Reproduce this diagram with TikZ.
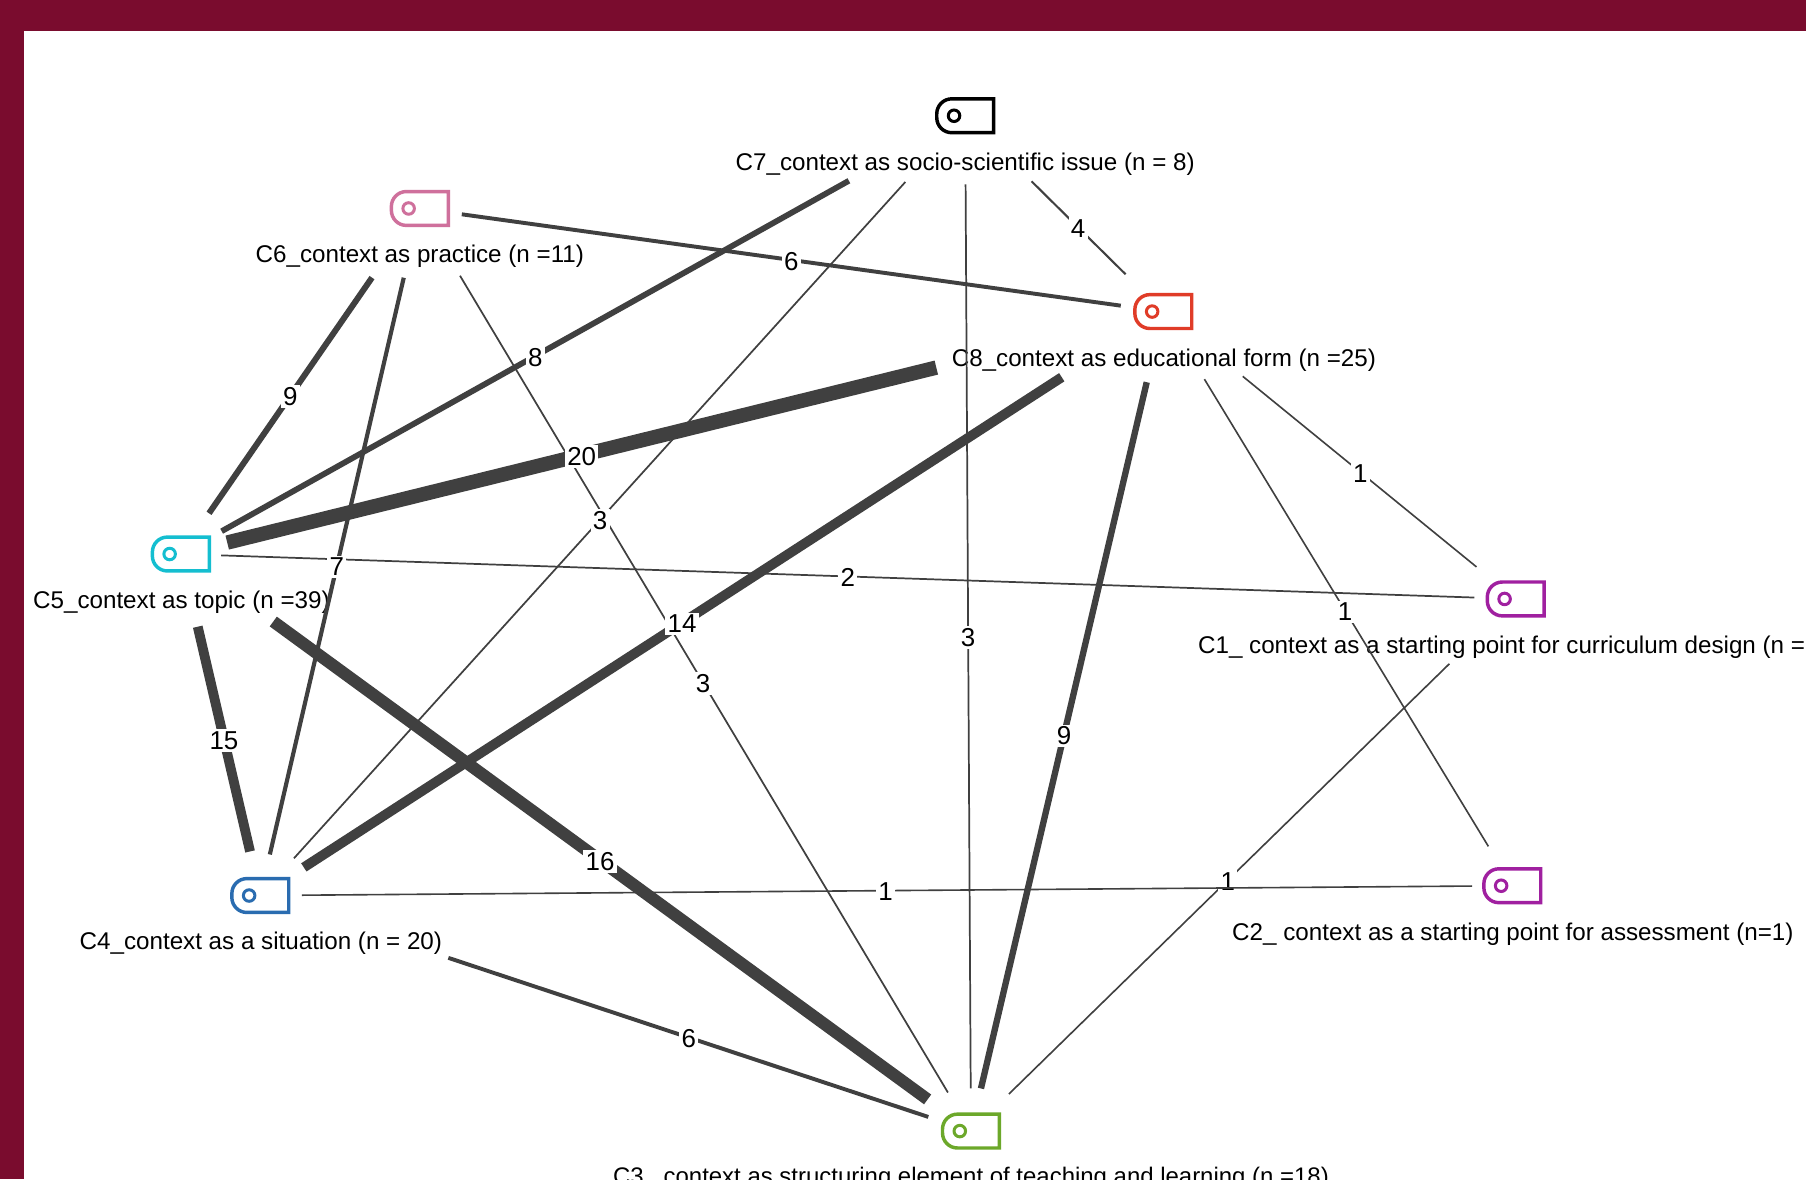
\documentclass[tikz,border=0pt]{standalone}
\usepackage{fontspec}
\setmainfont{Liberation Sans}
\definecolor{frame}{RGB}{122,12,46}
\definecolor{linkc}{RGB}{64,64,64}
\definecolor{cCone}{RGB}{160,32,160}
\definecolor{cCthree}{RGB}{108,168,42}
\definecolor{cCfour}{RGB}{42,108,176}
\definecolor{cCfive}{RGB}{20,190,208}
\definecolor{cCsix}{RGB}{207,112,156}
\definecolor{cCeight}{RGB}{224,60,40}
\tikzset{
  vtx/.style={rectangle,inner sep=0pt,minimum width=49pt,minimum height=29pt},
  iconline/.style={line width=3pt,line join=miter},
  vlabel/.style={anchor=base,inner sep=0pt,font=\fontsize{21}{25}\selectfont,text=black},
  elabel/.style={fill=white,inner xsep=2pt,inner ysep=2pt,yshift=-1pt,font=\fontsize{22.5}{26}\selectfont,text=black},
  link/.style={draw=linkc,line cap=butt}
}
\newcommand\vicon[3]{%
  \node[vtx] (#1) at (#2) {};
  \draw[iconline,draw=#3] (#1.north east) [rounded corners=13pt] -- (#1.north west) -- (#1.south west) [sharp corners] -- (#1.south east) -- cycle;
  \draw[iconline,draw=#3,line width=2.6pt] ([xshift=15pt]#1.west) circle (5pt);
}
\newcommand\lnk[5]{\draw[link,line width=#3pt,shorten <=#4pt,shorten >=#5pt] (#1.center) -- (#2.center);}
\newcommand\lab[4]{\path (#1.center) -- (#2.center) node[elabel,pos=#3] {#4};}
\begin{document}
\begin{tikzpicture}[x=1pt,y=-1pt]
\useasboundingbox (0,0) rectangle (1568,1023.66);
\clip (0,0) rectangle (1568,1023.66);
\fill[white] (0,0) rectangle (1568,1023.66);
\fill[frame] (0,0) rectangle (1568,26.5);
\fill[frame] (0,0) rectangle (21,1023.66);
% vertices
\vicon{C1}{1316,520}{cCone}
\vicon{C2}{1313,769}{cCone}
\vicon{C3}{843,982}{cCthree}
\vicon{C4}{226,777.5}{cCfour}
\vicon{C5}{157,481}{cCfive}
\vicon{C6}{364.5,181}{cCsix}
\vicon{C7}{838,100.5}{black}
\vicon{C8}{1010,270.5}{cCeight}
% vertex labels
\node[vlabel] (L7) at (838,148) {C7\_context as socio-scientific issue (n = 8)};
\node[vlabel] (L6) at (364.5,228) {C6\_context as practice (n =11)};
\node[vlabel] (L8) at (1010.5,318) {C8\_context as educational form (n =25)};
\node[vlabel] (L5) at (157.5,528) {C5\_context as topic (n =39)};
\node[vlabel,anchor=base west] (L1) at (1040,567) {C1\_ context as a starting point for curriculum design (n =};
\node[vlabel] (L4) at (226.5,824.5) {C4\_context as a situation (n = 20)};
\node[vlabel] (L2) at (1313.5,816.5) {C2\_ context as a starting point for assessment (n=1)};
\node[vlabel,font=\fontsize{20.8}{25}\selectfont] (L3) at (843,1028) {C3\_ context as structuring element of teaching and learning (n =18)};
% links
\lnk{C7}{C8}{1.8}{81}{46}
\lnk{C6}{C8}{3.4}{36.8}{37.3}
\lnk{C7}{C5}{5}{115.7}{40.6}
\lnk{C7}{C4}{1.5}{77.5}{43.5}
\lnk{C7}{C3}{1.5}{59.5}{37}
\lnk{C6}{C5}{5.2}{73}{43}
\lnk{C6}{C4}{3.6}{61.7}{36.6}
\lnk{C6}{C3}{1.5}{68}{39}
\lnk{C8}{C5}{12.5}{203}{41.5}
\lnk{C8}{C4}{8.5}{105}{45}
\lnk{C8}{C3}{5.5}{63}{38}
\lnk{C8}{C2}{1.4}{68.7}{40}
\lnk{C8}{C1}{1.4}{89}{44}
\lnk{C5}{C1}{1.5}{35}{36}
\lnk{C5}{C4}{8.5}{64.8}{39.3}
\lnk{C5}{C3}{10.5}{99.4}{46.6}
\lnk{C4}{C3}{3.4}{172}{39}
\lnk{C3}{C1}{1.4}{46}{80.6}
\lab{C3}{C1}{.4715}{1}
\lnk{C4}{C2}{1.4}{36}{35}
% link labels
\lab{C7}{C8}{.57}{4}
\lab{C6}{C8}{.4996}{6}
\lab{C7}{C5}{.548}{8}
\lab{C7}{C4}{.518}{3}
\lab{C7}{C3}{.513}{3}
\lab{C6}{C5}{.542}{9}
\lab{C6}{C4}{.52}{7}
\lab{C6}{C3}{.514}{3}
\lab{C8}{C5}{.592}{20}
\lab{C8}{C4}{.533}{14}
\lab{C8}{C3}{.5165}{9}
\lab{C8}{C2}{.521}{1}
\lab{C8}{C1}{.559}{1}
\lab{C5}{C1}{.4996}{2}
\lab{C5}{C4}{.543}{15}
\lab{C5}{C3}{.5306}{16}
\lab{C4}{C2}{.4995}{1}
\lab{C4}{C3}{.603}{6}
\end{tikzpicture}
\end{document}
